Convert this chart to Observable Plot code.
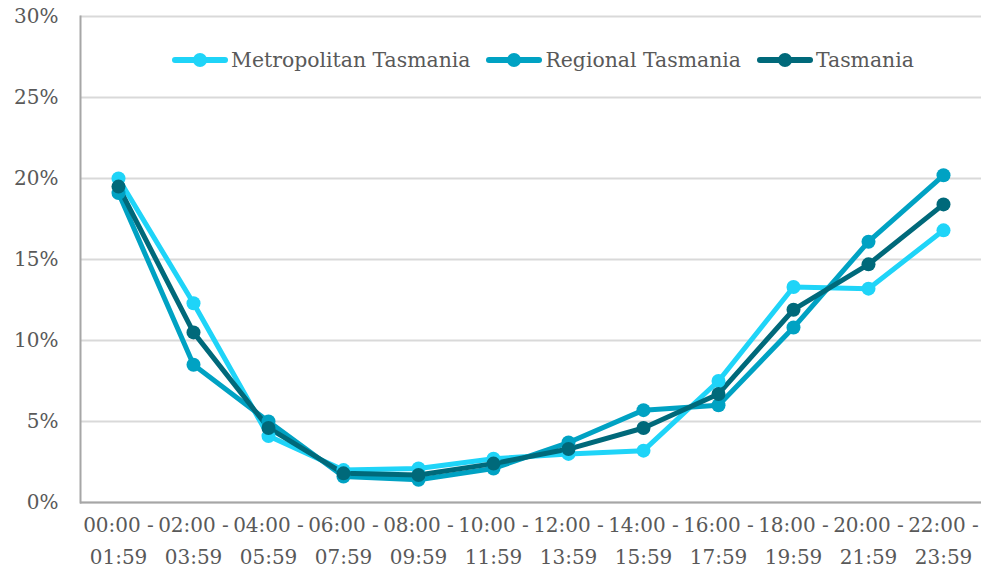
<!DOCTYPE html>
<html><head><meta charset="utf-8">
<script src="https://cdn.jsdelivr.net/npm/d3@7"></script>
<script src="https://cdn.jsdelivr.net/npm/@observablehq/plot@0.6"></script>
<style>
body{margin:0;background:#fff;}
#wrap{position:relative;width:982px;height:576px;}
#legend{position:absolute;top:48px;left:172px;display:flex;align-items:center;font-family:"DejaVu Serif";font-size:20.4px;color:#595959;white-space:nowrap;}
.item{display:flex;align-items:center;margin-right:16px;}
.item svg{margin-right:3px;}
</style>
</head><body>
<div id="wrap"><div id="chart"></div><div id="legend"></div></div>
<script>
const categories = ["00:00 -\n01:59","02:00 -\n03:59","04:00 -\n05:59","06:00 -\n07:59","08:00 -\n09:59","10:00 -\n11:59","12:00 -\n13:59","14:00 -\n15:59","16:00 -\n17:59","18:00 -\n19:59","20:00 -\n21:59","22:00 -\n23:59"];
const seriesNames = ["Metropolitan Tasmania","Regional Tasmania","Tasmania"];
const metro    = [20.0, 12.3, 4.1, 2.0, 2.1, 2.7, 3.0, 3.2, 7.5, 13.3, 13.2, 16.8];
const regional = [19.1,  8.5, 5.0, 1.6, 1.4, 2.1, 3.7, 5.7, 6.0, 10.8, 16.1, 20.2];
const tasmania = [19.5, 10.5, 4.6, 1.8, 1.7, 2.4, 3.3, 4.6, 6.7, 11.9, 14.7, 18.4];
const yTicks = [0,5,10,15,20,25,30];
const colors = ["#1fd4f8","#00a2c3","#00697a"];

const values = [metro, regional, tasmania];
const data = [];
seriesNames.forEach((s,i)=>categories.forEach((c,j)=>data.push({series:s, cat:c, value:values[i][j]})));

const font = "DejaVu Serif";
const chart = Plot.plot({
  width: 982, height: 576,
  marginLeft: 80, marginRight: 1, marginTop: 16, marginBottom: 74,
  style: {fontFamily: font, fontSize: "20px", color: "#595959", background: "#fff"},
  x: {type: "point", domain: categories, padding: 0.5, label: null},
  y: {domain: [0,30], label: null},
  color: {domain: seriesNames, range: colors},
  marks: [
    Plot.gridY(yTicks, {stroke: "#d9d9d9", strokeOpacity: 1, strokeWidth: 2}),
    Plot.axisY(yTicks, {tickSize: 0, tickPadding: 22, tickFormat: d => d + "%", fontSize: 20, fill: "#595959"}),
    Plot.axisX({tickSize: 0, tickPadding: 7, fontSize: 20, lineHeight: 1.6, fill: "#595959"}),
    Plot.frame({anchor: "left", stroke: "#a6a6a6", strokeWidth: 2}),
    Plot.ruleY([0], {stroke: "#a6a6a6", strokeWidth: 2}),
    Plot.line(data, {x: "cat", y: "value", z: "series", stroke: "series", strokeWidth: 5}),
    Plot.dot(data, {x: "cat", y: "value", fill: "series", r: 7})
  ]
});
document.getElementById("chart").appendChild(chart);

const legend = document.getElementById("legend");
seriesNames.forEach((s,i)=>{
  const d = document.createElement("div"); d.className = "item";
  d.innerHTML = `<svg width="56" height="16"><line x1="3" x2="53" y1="8" y2="8" stroke="${colors[i]}" stroke-width="6" stroke-linecap="round"/><circle cx="28" cy="8" r="7" fill="${colors[i]}"/></svg><span>${s}</span>`;
  legend.appendChild(d);
});
</script>
</body></html>
